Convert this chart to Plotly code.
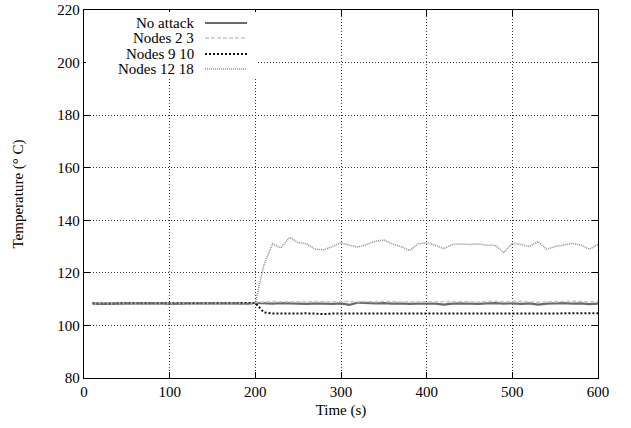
import plotly.graph_objects as go

time_s = list(range(10, 610, 10))

no_attack = [
    108.4, 108.2, 108.3, 108.3, 108.4, 108.5, 108.4, 108.3, 108.5, 108.2,
    108.3, 108.6, 108.5, 108.4, 108.3, 108.4, 108.5, 108.4, 108.2, 108.6,
    108.4, 108.3, 108.5, 108.4, 108.3, 108.2, 108.4, 108.3, 108.2, 108.4,
    107.8, 108.7, 108.5, 108.4, 108.5, 108.3, 108.4, 108.2, 108.3, 108.4,
    108.3, 107.9, 108.3, 108.4, 108.3, 108.2, 108.4, 108.5, 108.3, 108.4,
    108.2, 108.4, 107.9, 108.3, 108.4, 108.5, 108.3, 108.4, 108.1, 108.3,
]
nodes_2_3 = [
    108.5, 108.3, 108.4, 108.4, 108.5, 108.6, 108.5, 108.4, 108.6, 108.3,
    108.4, 108.7, 108.6, 108.5, 108.4, 108.5, 108.6, 108.5, 108.3, 108.7,
    109.0, 109.1, 109.0, 108.9, 109.0, 109.1, 109.0, 108.9, 109.0, 109.1,
    109.0, 109.0, 109.1, 109.0, 109.2, 109.0, 108.9, 109.0, 109.1, 109.0,
    109.0, 109.1, 109.0, 109.1, 109.0, 108.9, 109.1, 109.2, 109.0, 109.1,
    109.2, 109.0, 108.8, 109.0, 109.1, 109.0, 109.1, 109.2, 109.0, 109.1,
]
nodes_9_10 = [
    108.4, 108.3, 108.3, 108.4, 108.4, 108.5, 108.4, 108.3, 108.4, 108.3,
    108.4, 108.5, 108.5, 108.4, 108.4, 108.5, 108.5, 108.4, 108.3, 108.5,
    105.0, 104.5, 104.5, 104.6, 104.5, 104.6, 104.5, 104.3, 104.5, 104.5,
    104.6, 104.5, 104.6, 104.5, 104.5, 104.6, 104.5, 104.4, 104.5, 104.5,
    104.6, 104.5, 104.5, 104.6, 104.5, 104.5, 104.4, 104.4, 104.5, 104.6,
    104.5, 104.6, 104.5, 104.5, 104.6, 104.5, 104.5, 104.6, 104.5, 104.6,
]
nodes_12_18 = [
    108.5, 108.3, 108.4, 108.4, 108.5, 108.5, 108.4, 108.3, 108.5, 108.3,
    108.4, 108.6, 108.5, 108.4, 108.4, 108.5, 108.5, 108.4, 108.2, 108.6,
    123.0, 131.0, 129.5, 133.5, 131.5, 131.0, 129.0, 128.8, 130.0, 131.5,
    130.5, 129.8, 130.8, 132.0, 132.5, 131.0, 130.0, 128.5, 131.0, 131.5,
    130.5, 129.2, 130.8, 131.0, 130.8, 131.0, 130.5, 130.5, 127.7, 131.3,
    130.8, 130.0, 131.9, 129.0, 130.0, 130.5, 131.2, 130.6, 129.0, 130.8,
]

series_names = ["No attack", "Nodes 2 3", "Nodes 9 10", "Nodes 12 18"]
series_values = [no_attack, nodes_2_3, nodes_9_10, nodes_12_18]
styles = [
    dict(color="#6a6a6a", width=2.2, dash="solid"),
    dict(color="#c8c8c8", width=1.6, dash="4px,2px"),
    dict(color="#111111", width=2.0, dash="2px,2px"),
    dict(color="#909090", width=1.6, dash="1px,1px"),
]

x_ticks = [0, 100, 200, 300, 400, 500, 600]
y_ticks = [80, 100, 120, 140, 160, 180, 200, 220]

fig = go.Figure()
for name, vals, st in zip(series_names, series_values, styles):
    fig.add_trace(go.Scatter(x=time_s, y=vals, mode="lines", name=name,
                             line=st, showlegend=False))

font = dict(family="Liberation Serif", size=15, color="black")
leg_font = dict(family="Liberation Serif", size=15, color="black")

axis_common = dict(showline=True, linecolor="black", linewidth=1.4, mirror="ticks",
                   ticks="inside", ticklen=6, tickcolor="black",
                   showgrid=True, gridcolor="#333333", griddash="1px,2px", gridwidth=1,
                   zeroline=False, tickfont=font, automargin=False)

fig.update_xaxes(range=[0, 600], tickvals=x_ticks, **axis_common,
                 title=dict(text="Time (s)", font=font, standoff=5))
fig.update_yaxes(range=[80, 220], tickvals=y_ticks, **axis_common,
                 title=dict(text="Temperature (° C)", font=font, standoff=30))

# Legend (gnuplot style: right-aligned text, sample to the right)
L, R, T, B = 84, 598, 10, 378
W, H = 631, 428
def px(x):
    return (x - L) / (R - L)
def py(y):
    return (B - y) / (B - T)

shapes = [dict(type="rect", xref="paper", yref="paper",
               x0=px(L + 2), x1=px(256), y0=py(77), y1=py(T + 2),
               fillcolor="white", line=dict(width=0), layer="above")]
annotations = []
leg_y = [23, 38, 54, 69]
for name, st, yy in zip(series_names, styles, leg_y):
    annotations.append(dict(xref="paper", yref="paper", x=px(196), y=py(yy),
                            text=name, showarrow=False, xanchor="right",
                            yanchor="middle", font=leg_font))
    shapes.append(dict(type="line", xref="paper", yref="paper",
                       x0=px(205), x1=px(247), y0=py(yy), y1=py(yy),
                       line=st, layer="above"))

fig.update_layout(
    width=W, height=H,
    margin=dict(l=L, r=W - R, t=T, b=H - B, autoexpand=False),
    paper_bgcolor="white", plot_bgcolor="white",
    font=font, shapes=shapes, annotations=annotations,
)

fig.write_html("out.html", config={"displayModeBar": False},
               post_script="document.body.style.margin='0';")
